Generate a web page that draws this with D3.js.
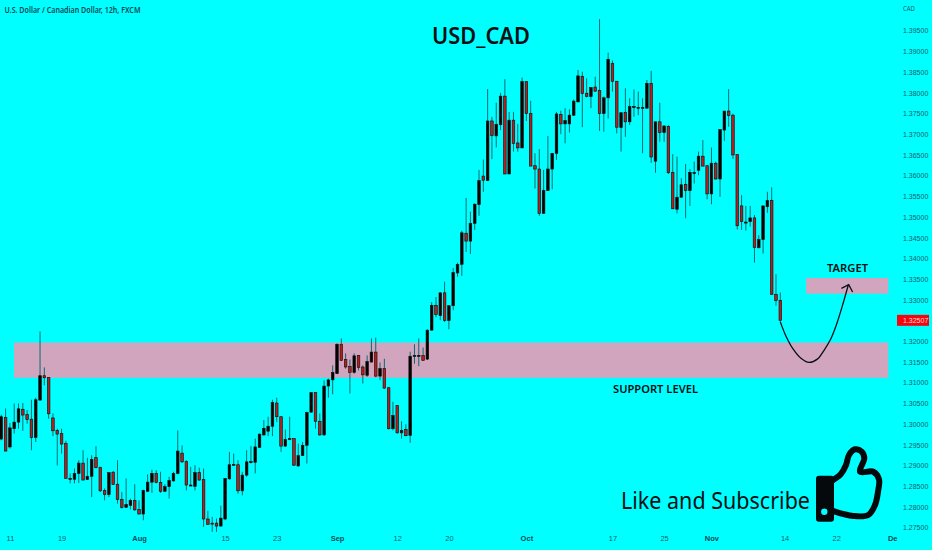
<!DOCTYPE html>
<html>
<head>
<meta charset="utf-8">
<script src="https://cdn.jsdelivr.net/npm/d3@7/dist/d3.min.js"></script>
<style>
html, body { margin: 0; padding: 0; background: #00ffff; }
svg { display: block; }
text { font-family: "Liberation Sans", sans-serif; }
</style>
</head>
<body>
<svg class="chart" width="932" height="550"></svg>
<script>
// 12h candles, oldest first
var opens = [
    1.2964,1.3016,1.2945,1.2989,1.3005,1.3036,1.3023,1.3012,1.2968,1.3058,
    1.3117,1.3113,1.3015,1.2985,1.2977,1.2953,1.2867,1.2867,1.2881,1.2906,
    1.2866,1.2874,1.2919,1.2896,1.2840,1.2830,1.2884,1.2855,1.2818,1.2799,
    1.2804,1.2816,1.2794,1.2783,1.2838,1.2860,1.2881,1.2859,1.2838,1.2849,
    1.2863,1.2881,1.2930,1.2910,1.2851,1.2850,1.2883,1.2866,1.2771,1.2761,
    1.2761,1.2754,1.2771,1.2868,1.2902,1.2902,1.2839,1.2877,1.2907,1.2908,
    1.2944,1.2974,1.2983,1.2995,1.3051,1.3018,1.2947,1.2963,1.2965,1.2899,
    1.2924,1.2949,1.3029,1.3076,1.3007,1.2974,1.3092,1.3107,1.3122,1.3193,
    1.3156,1.3139,1.3125,1.3166,1.3138,1.3118,1.3150,1.3174,1.3116,1.3134,
    1.3088,1.2989,1.3045,1.2979,1.2987,1.2973,1.3164,1.3165,1.3166,1.3157,
    1.3227,1.3287,1.3262,1.3317,1.3250,1.3286,1.3365,1.3386,1.3461,1.3442,
    1.3485,1.3530,1.3599,1.3588,1.3732,1.3696,1.3723,1.3792,1.3604,1.3734,
    1.3679,1.3667,1.3827,1.3750,1.3624,1.3616,1.3509,1.3564,1.3616,1.3654,
    1.3748,1.3725,1.3725,1.3746,1.3778,1.3840,1.3799,1.3791,1.3814,1.3806,
    1.3750,1.3788,1.3871,1.3828,1.3716,1.3753,1.3730,1.3766,1.3763,1.3763,
    1.3763,1.3823,1.3635,1.3730,1.3704,1.3719,1.3608,1.3519,1.3548,1.3579,
    1.3564,1.3605,1.3613,1.3647,1.3624,1.3556,1.3630,1.3592,1.3710,1.3756,
    1.3746,1.3651,1.3527,1.3487,1.3489,1.3498,1.3426,1.3446,1.3525,1.3540,
    1.3313,1.3299
];
var highs = [
    1.3023,1.3038,1.3003,1.3050,1.3050,1.3051,1.3034,1.3059,1.3064,1.3224,
    1.3137,1.3113,1.3026,1.2989,1.2989,1.2960,1.2881,1.2893,1.2913,1.2937,
    1.2919,1.2925,1.2947,1.2897,1.2845,1.2883,1.2887,1.2913,1.2836,1.2869,
    1.2820,1.2855,1.2816,1.2842,1.2879,1.2890,1.2889,1.2885,1.2855,1.2873,
    1.2885,1.2985,1.2949,1.2913,1.2897,1.2901,1.2895,1.2893,1.2791,1.2776,
    1.2772,1.2803,1.2870,1.2933,1.2929,1.2913,1.2885,1.2937,1.2947,1.2965,
    1.2977,1.3010,1.3018,1.3059,1.3064,1.3018,1.2987,1.3018,1.2965,1.2953,
    1.2957,1.3030,1.3077,1.3076,1.3026,1.3106,1.3110,1.3142,1.3195,1.3207,
    1.3171,1.3156,1.3171,1.3167,1.3142,1.3166,1.3207,1.3209,1.3149,1.3158,
    1.3090,1.3054,1.3046,1.3007,1.3000,1.3175,1.3193,1.3207,1.3185,1.3229,
    1.3295,1.3307,1.3319,1.3344,1.3287,1.3377,1.3390,1.3467,1.3546,1.3513,
    1.3533,1.3614,1.3639,1.3809,1.3742,1.3776,1.3800,1.3833,1.3754,1.3754,
    1.3725,1.3837,1.3828,1.3781,1.3654,1.3664,1.3614,1.3696,1.3655,1.3754,
    1.3757,1.3763,1.3760,1.3784,1.3855,1.3851,1.3835,1.3814,1.3839,1.3978,
    1.3791,1.3897,1.3878,1.3828,1.3752,1.3811,1.3787,1.3808,1.3803,1.3787,
    1.3831,1.3853,1.3730,1.3776,1.3722,1.3722,1.3652,1.3646,1.3594,1.3628,
    1.3616,1.3634,1.3658,1.3686,1.3626,1.3668,1.3634,1.3712,1.3756,1.3809,
    1.3750,1.3651,1.3553,1.3527,1.3527,1.3505,1.3456,1.3527,1.3561,1.3572,
    1.3362,1.3318
];
var lows = [
    1.2961,1.2935,1.2941,1.2977,1.2989,1.2984,1.3001,1.2937,1.2957,1.3058,
    1.3094,1.3013,1.2971,1.2900,1.2929,1.2869,1.2857,1.2857,1.2858,1.2865,
    1.2865,1.2824,1.2893,1.2836,1.2816,1.2824,1.2853,1.2808,1.2796,1.2798,
    1.2794,1.2791,1.2782,1.2768,1.2836,1.2834,1.2857,1.2834,1.2836,1.2820,
    1.2861,1.2879,1.2906,1.2840,1.2851,1.2840,1.2863,1.2752,1.2757,1.2740,
    1.2740,1.2752,1.2768,1.2866,1.2900,1.2832,1.2828,1.2873,1.2905,1.2881,
    1.2943,1.2972,1.2971,1.2971,1.3005,1.2933,1.2945,1.2961,1.2899,1.2897,
    1.2923,1.2905,1.3027,1.2989,1.2972,1.2972,1.3064,1.3072,1.3121,1.3153,
    1.3134,1.3074,1.3122,1.3130,1.3098,1.3114,1.3149,1.3113,1.3106,1.3085,
    1.2987,1.2985,1.2977,1.2965,1.2971,1.2955,1.3146,1.3140,1.3153,1.3155,
    1.3226,1.3258,1.3251,1.3247,1.3229,1.3275,1.3356,1.3358,1.3416,1.3411,
    1.3469,1.3503,1.3561,1.3587,1.3640,1.3668,1.3710,1.3604,1.3604,1.3658,
    1.3658,1.3666,1.3732,1.3623,1.3569,1.3503,1.3509,1.3563,1.3567,1.3638,
    1.3700,1.3678,1.3704,1.3744,1.3778,1.3717,1.3789,1.3763,1.3803,1.3708,
    1.3706,1.3738,1.3803,1.3702,1.3658,1.3694,1.3722,1.3742,1.3746,1.3654,
    1.3762,1.3631,1.3607,1.3682,1.3682,1.3604,1.3519,1.3509,1.3546,1.3497,
    1.3527,1.3581,1.3601,1.3623,1.3543,1.3531,1.3590,1.3549,1.3684,1.3718,
    1.3640,1.3470,1.3469,1.3467,1.3477,1.3390,1.3424,1.3412,1.3510,1.3313,
    1.3286,1.3247
];
var closes = [
    1.3018,1.2935,1.2991,1.3005,1.3037,1.3022,1.3011,1.2968,1.3059,1.3117,
    1.3112,1.3025,1.2984,1.2976,1.2952,1.2869,1.2869,1.2881,1.2906,1.2865,
    1.2874,1.2915,1.2895,1.2839,1.2830,1.2883,1.2854,1.2818,1.2799,1.2806,
    1.2816,1.2793,1.2783,1.2840,1.2860,1.2881,1.2859,1.2838,1.2849,1.2864,
    1.2881,1.2935,1.2909,1.2853,1.2853,1.2883,1.2865,1.2771,1.2758,1.2759,
    1.2754,1.2773,1.2869,1.2902,1.2903,1.2839,1.2877,1.2909,1.2910,1.2945,
    1.2976,1.2990,1.2995,1.3052,1.3018,1.2947,1.2963,1.2965,1.2901,1.2924,
    1.2949,1.3028,1.3076,1.3007,1.2974,1.3092,1.3107,1.3125,1.3193,1.3154,
    1.3138,1.3125,1.3165,1.3137,1.3119,1.3151,1.3174,1.3116,1.3134,1.3087,
    1.2989,1.3021,1.2979,1.2985,1.2972,1.3164,1.3166,1.3166,1.3154,1.3227,
    1.3287,1.3265,1.3317,1.3250,1.3286,1.3366,1.3386,1.3462,1.3442,1.3485,
    1.3531,1.3588,1.3589,1.3732,1.3697,1.3724,1.3792,1.3604,1.3734,1.3678,
    1.3667,1.3827,1.3750,1.3623,1.3616,1.3509,1.3564,1.3616,1.3654,1.3749,
    1.3725,1.3733,1.3746,1.3780,1.3841,1.3798,1.3791,1.3813,1.3804,1.3750,
    1.3788,1.3881,1.3828,1.3717,1.3752,1.3730,1.3767,1.3767,1.3765,1.3765,
    1.3823,1.3645,1.3730,1.3704,1.3720,1.3607,1.3520,1.3548,1.3578,1.3564,
    1.3608,1.3608,1.3647,1.3623,1.3556,1.3630,1.3592,1.3711,1.3756,1.3745,
    1.3650,1.3479,1.3489,1.3488,1.3498,1.3427,1.3446,1.3527,1.3540,1.3313,
    1.3299,1.32507
];

var priceTicks = [1.275,1.28,1.285,1.29,1.295,1.30,1.305,1.31,1.315,1.32,1.33,1.335,1.34,1.345,1.35,1.355,1.36,1.365,1.37,1.375,1.38,1.385,1.39,1.395];
var dateTickBars = [2,14,32,52,64,78,92,104,122,142,154,165,182,194,207];
var dateTickLabels = ["11","19","Aug","15","23","Sep","12","20","Oct","17","25","Nov","14","22","De"];
var monthLabels = ["Aug","Sep","Oct","Nov","De"];

var lastPrice = 1.32507;
var supportZone = { fromBar: 2.95, toBar: 206.1, top: 1.3197, bottom: 1.3112 };
var targetZone = { fromBar: 187, toBar: 206.1, top: 1.3353, bottom: 1.3315 };
var pathBars = [181,182.3,184,185.8,187.7,189.6,191.2,192.6,194,195.4,196.8];
var pathPrices = [1.3247,1.3213,1.3181,1.3159,1.3149,1.3157,1.3179,1.3203,1.3239,1.3285,1.3336];
var arrowBars = [195.2,196.9,197.8];
var arrowPrices = [1.3328,1.3337,1.3319];

var svg = d3.select("svg.chart");
var xScale = d3.scaleLinear().domain([0, 181]).range([1.3, 780.3]);
var yScale = d3.scaleLinear().domain([1.275, 1.395]).range([527.7, 30.7]);

var candleData = opens.map(function (open, i) {
    return { bar: i, open: open, high: highs[i], low: lows[i], close: closes[i] };
});

function drawZone(zone) {
    svg.append("rect")
        .attr("x", xScale(zone.fromBar))
        .attr("y", yScale(zone.top))
        .attr("width", xScale(zone.toBar) - xScale(zone.fromBar))
        .attr("height", yScale(zone.bottom) - yScale(zone.top))
        .attr("fill", "#d2a5be");
}

function drawCandles() {
    var groups = svg.selectAll("g.candle")
        .data(candleData)
        .enter().append("g")
        .classed("candle", true);

    groups.append("line")
        .attr("x1", function (d) { return xScale(d.bar); })
        .attr("x2", function (d) { return xScale(d.bar); })
        .attr("y1", function (d) { return yScale(d.high); })
        .attr("y2", function (d) { return yScale(d.low); })
        .attr("stroke", "#0c6a70")
        .attr("stroke-width", 1);

    groups.append("rect")
        .attr("x", function (d) { return xScale(d.bar) - 1.3; })
        .attr("width", 2.6)
        .attr("y", function (d) { return yScale(Math.max(d.open, d.close)); })
        .attr("height", function (d) {
            return Math.max(1, Math.abs(yScale(d.open) - yScale(d.close)));
        })
        .attr("fill", function (d) { return d.close >= d.open ? "#000000" : "#b42020"; })
        .attr("stroke", "#150808")
        .attr("stroke-width", 0.6);
}

function drawAxes() {
    var yAxis = d3.axisRight(yScale)
        .tickValues(priceTicks)
        .tickSize(0)
        .tickPadding(0)
        .tickFormat(d3.format(".5f"));
    var yGroup = svg.append("g").attr("transform", "translate(903,0)").call(yAxis);
    yGroup.select(".domain").remove();
    yGroup.selectAll("text")
        .attr("font-size", 7)
        .attr("font-family", "Liberation Sans")
        .attr("fill", "#17606b");

    var xAxis = d3.axisBottom(xScale)
        .tickValues(dateTickBars)
        .tickSize(0)
        .tickPadding(0)
        .tickFormat(function (d) { return dateTickLabels[dateTickBars.indexOf(d)]; });
    var xGroup = svg.append("g").attr("transform", "translate(0,536)").call(xAxis);
    xGroup.select(".domain").remove();
    xGroup.selectAll("text")
        .attr("font-size", 7.5)
        .attr("font-family", "Liberation Sans")
        .attr("font-weight", function (d) {
            return monthLabels.indexOf(dateTickLabels[dateTickBars.indexOf(d)]) >= 0 ? "bold" : "normal";
        })
        .attr("fill", function (d) {
            return monthLabels.indexOf(dateTickLabels[dateTickBars.indexOf(d)]) >= 0 ? "#0b4a55" : "#17606b";
        });
}

function drawLastPrice() {
    var y = yScale(lastPrice);
    svg.append("rect")
        .attr("x", 897)
        .attr("y", y - 5.5)
        .attr("width", 32)
        .attr("height", 11)
        .attr("fill", "#f5060f");
    svg.append("text")
        .attr("x", 903)
        .attr("y", y + 2.5)
        .attr("font-size", 7)
        .attr("fill", "#ffd9d9")
        .text(d3.format(".5f")(lastPrice));
}

function drawPlan() {
    var line = d3.line()
        .x(function (d) { return xScale(d[0]); })
        .y(function (d) { return yScale(d[1]); });
    var pathPoints = pathBars.map(function (b, i) { return [b, pathPrices[i]]; });
    var arrowPoints = arrowBars.map(function (b, i) { return [b, arrowPrices[i]]; });

    svg.append("path")
        .attr("d", line.curve(d3.curveCatmullRom)(pathPoints))
        .attr("fill", "none")
        .attr("stroke", "#0a0f14")
        .attr("stroke-width", 1.3);
    svg.append("path")
        .attr("d", line.curve(d3.curveLinear)(arrowPoints))
        .attr("fill", "none")
        .attr("stroke", "#0a0f14")
        .attr("stroke-width", 1.3);
}

function addLabel(text, x, y, size, width, weight, color) {
    svg.append("text")
        .attr("x", x)
        .attr("y", y)
        .attr("font-size", size)
        .attr("font-weight", weight)
        .style("font-family", "'Noto Sans', sans-serif")
        .attr("fill", color)
        .attr("textLength", width)
        .attr("lengthAdjust", "spacingAndGlyphs")
        .text(text);
}

function drawThumb() {
    var outline = [[826,486],[833.3,480],[840.7,474.3],[846,465],[849,455],[855,449.3],[861.7,451.7],[864.3,458.3],[860,471.7],
        [873.3,471.7],[879,479.3],[878,491.7],[875,505],[868.3,515],[853.3,516],[835,511.7],[826,508]];
    svg.append("path")
        .attr("d", d3.line().curve(d3.curveCatmullRom)(outline))
        .attr("fill", "none")
        .attr("stroke", "#05090c")
        .attr("stroke-width", 6)
        .attr("stroke-linejoin", "round");

    svg.append("rect")
        .attr("x", 816)
        .attr("y", 475.7)
        .attr("width", 18)
        .attr("height", 46)
        .attr("rx", 3)
        .attr("fill", "#05090c");
    svg.append("circle")
        .attr("cx", 824.3)
        .attr("cy", 511.7)
        .attr("r", 3.2)
        .attr("fill", "#00ffff");
}

drawZone(supportZone);
drawZone(targetZone);
drawCandles();
drawPlan();
drawAxes();
drawLastPrice();

addLabel("U.S. Dollar / Canadian Dollar, 12h, FXCM", 4.5, 13, 8.5, 136, 600, "#0b4a55");
addLabel("CAD", 903, 10.5, 6.5, 12, 400, "#17606b");
addLabel("USD_CAD", 432, 44, 23, 98, 600, "#061014");
addLabel("TARGET", 827, 272, 11.5, 41, 600, "#061014");
addLabel("SUPPORT LEVEL", 613, 393, 10.5, 85, 600, "#061014");
addLabel("Like and Subscribe", 621, 509, 24, 189, 400, "#061014");
drawThumb();
</script>
</body>
</html>
